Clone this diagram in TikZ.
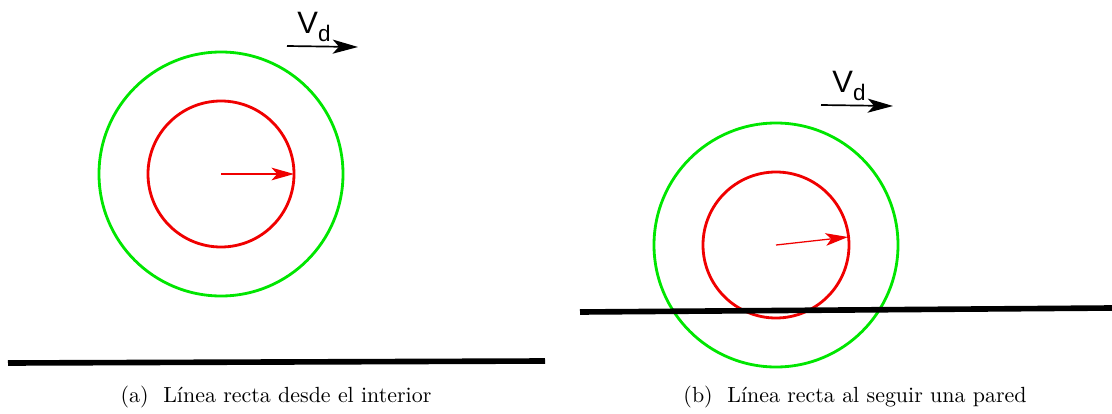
\documentclass[tikz,border=0pt]{standalone}
\usepackage{fontspec}
\newfontfamily\vdfont{Liberation Sans}
\usetikzlibrary{arrows.meta}
\definecolor{ringgreen}{RGB}{0,230,0}
\definecolor{ringred}{RGB}{240,0,0}
\tikzset{
  outer/.style={draw=ringgreen,line width=2pt},
  inner/.style={draw=ringred,line width=2pt},
  heading/.style={ringred,line width=0.9pt,-{Stealth[length=16pt,width=9pt,inset=4pt]}},
  wall/.style={line width=4pt},
  speed/.style={line width=1.2pt,-{Stealth[length=18pt,width=10pt,inset=4.5pt]}},
  caption/.style={font=\fontsize{10}{12}\selectfont,scale=1.56}
}
\newcommand{\vdlabel}{\vdfont\fontsize{22}{24}\selectfont V\raisebox{-0.45ex}{\fontsize{16}{17}\selectfont d}}
\begin{document}
\begin{tikzpicture}[x=0.025cm,y=-0.025cm]
    \useasboundingbox (0,0) rectangle (1112,414);
    % (a)
    \coordinate (ca) at (221,174);
    \draw[outer] (ca) circle (122);
    \draw[inner] (ca) circle (73);
    \coordinate (ha) at (294,174);
    \draw[heading] (ca) -- (ha);
    \coordinate (wa1) at (8,363);
    \coordinate (wa2) at (545,361);
    \draw[wall] (wa1) -- (wa2);
    \coordinate (va1) at (287,46);
    \coordinate (va2) at (358,47);
    \draw[speed] (va1) -- (va2);
    \node (vda) at (314,27) {\vdlabel};
    \node[caption] (capa) at (276,397) {(a)\ \ Línea recta desde el interior};
    % (b)
    \coordinate (cb) at (776,245);
    \draw[outer] (cb) circle (122);
    \draw[inner] (cb) circle (73);
    \coordinate (hb) at (848,237);
    \draw[heading] (cb) -- (hb);
    \coordinate (wb1) at (580,312);
    \coordinate (wb2) at (1112,308);
    \draw[wall] (wb1) -- (wb2);
    \coordinate (vb1) at (821,105);
    \coordinate (vb2) at (893,106);
    \draw[speed] (vb1) -- (vb2);
    \node (vdb) at (849,86) {\vdlabel};
    \node[caption] (capb) at (855,397) {(b)\ \ Línea recta al seguir una pared};
  \end{tikzpicture}
\end{document}
